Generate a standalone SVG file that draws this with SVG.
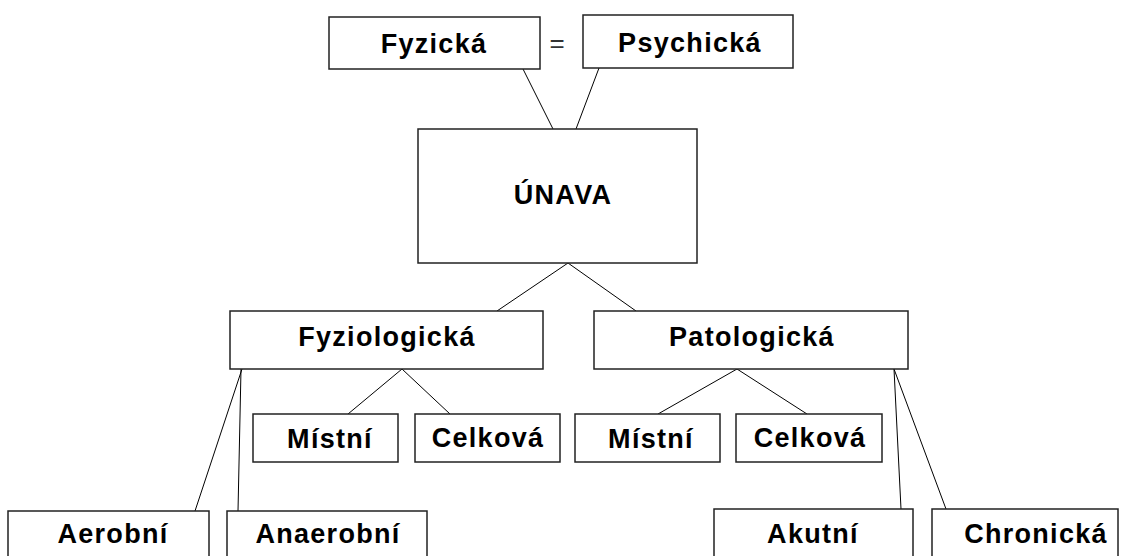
<svg xmlns="http://www.w3.org/2000/svg" width="1123" height="556" viewBox="0 0 1123 556">
<style>
.box{fill:#fff;stroke:#222;stroke-width:1.5}
.t{font-family:"Liberation Sans",Arial,sans-serif;font-weight:bold;font-size:27px;letter-spacing:1.3px;text-anchor:middle;fill:#000}
.c line{stroke:#000;stroke-width:1}
</style>
<rect width="1123" height="556" fill="#fff"/>
<g class="c" id="connectors">
<line x1="523" y1="69" x2="553" y2="129"/>
<line x1="599" y1="68" x2="576" y2="129"/>
<line x1="568" y1="263" x2="497" y2="311"/>
<line x1="568" y1="263" x2="636" y2="311"/>
<line x1="402" y1="369" x2="348" y2="414"/>
<line x1="402" y1="369" x2="450" y2="414"/>
<line x1="737" y1="369" x2="658" y2="414"/>
<line x1="737" y1="369" x2="807" y2="414"/>
<line x1="242" y1="369" x2="195" y2="511"/>
<line x1="241" y1="369" x2="238" y2="511"/>
<line x1="894" y1="369" x2="901" y2="509"/>
<line x1="894" y1="369" x2="946" y2="509"/>
</g>
<g id="fyzicka"><rect class="box" x="329" y="17" width="211" height="52"/><text class="t" x="434" y="53">Fyzická</text></g>
<g id="eq"><text x="557" y="52" font-family="Liberation Sans,Arial,sans-serif" font-size="26" text-anchor="middle" fill="#333">=</text></g>
<g id="psychicka"><rect class="box" x="583" y="15" width="210" height="53"/><text class="t" x="690" y="52">Psychická</text></g>
<g id="unava"><rect class="box" x="418" y="129" width="279" height="134"/><text class="t" x="563" y="204">ÚNAVA</text></g>
<g id="fyziologicka"><rect class="box" x="230" y="311" width="313" height="58"/><text class="t" x="387" y="346">Fyziologická</text></g>
<g id="patologicka"><rect class="box" x="594" y="311" width="314" height="58"/><text class="t" x="752" y="346">Patologická</text></g>
<g id="mistni1"><rect class="box" x="253" y="414" width="145" height="48"/><text class="t" x="330" y="448">Místní</text></g>
<g id="celkova1"><rect class="box" x="415" y="414" width="145" height="48"/><text class="t" x="488" y="447">Celková</text></g>
<g id="mistni2"><rect class="box" x="575" y="414" width="145" height="48"/><text class="t" x="651" y="448">Místní</text></g>
<g id="celkova2"><rect class="box" x="736" y="414" width="146" height="48"/><text class="t" x="810" y="447">Celková</text></g>
<g id="aerobni"><rect class="box" x="8" y="511" width="201" height="60"/><text class="t" x="113" y="543">Aerobní</text></g>
<g id="anaerobni"><rect class="box" x="227" y="511" width="200" height="60"/><text class="t" x="328" y="543">Anaerobní</text></g>
<g id="akutni"><rect class="box" x="714" y="509" width="199" height="60"/><text class="t" x="813" y="543">Akutní</text></g>
<g id="chronicka"><rect class="box" x="932" y="509" width="186" height="60"/><text class="t" x="1036" y="543">Chronická</text></g>
</svg>
